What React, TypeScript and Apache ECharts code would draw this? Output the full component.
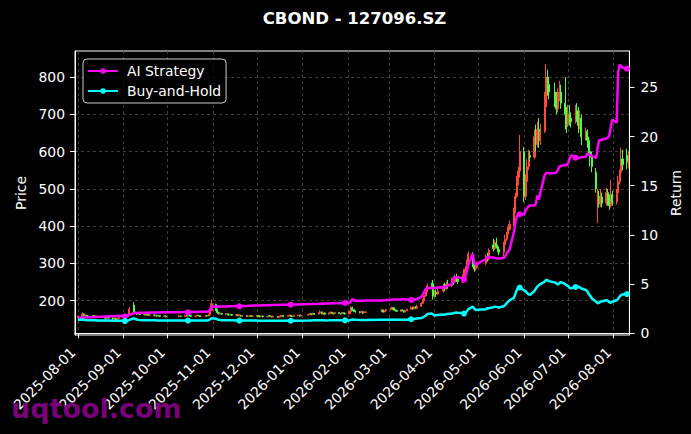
import React, { useEffect, useRef } from "react";
import * as echarts from "echarts";

const CHART_TITLE = "CBOND - 127096.SZ";
const WATERMARK = "uqtool.com";
const SERIES_NAMES = ["AI Strategy", "Buy-and-Hold"];
const Y_LEFT_NAME = "Price";
const Y_RIGHT_NAME = "Return";

const MONTH_TICKS = [
  "2025-08-01", "2025-09-01", "2025-10-01", "2025-11-01", "2025-12-01", "2026-01-01", "2026-02-01",
  "2026-03-01", "2026-04-01", "2026-05-01", "2026-06-01", "2026-07-01", "2026-08-01",
];
const PRICE_TICKS = [200, 300, 400, 500, 600, 700, 800];
const RETURN_TICKS = [0, 5, 10, 15, 20, 25];

const FIRST_DAY = "2025-08-01";
const LAST_DAY = "2026-08-11";
const HOLIDAYS = [
  "2025-10-01", "2025-10-02", "2025-10-03", "2025-10-06", "2025-10-07", "2025-10-08",
  "2026-01-01", "2026-01-02",
  "2026-02-16", "2026-02-17", "2026-02-18", "2026-02-19", "2026-02-20", "2026-02-23",
  "2026-04-06", "2026-05-01", "2026-05-04", "2026-05-05", "2026-06-19",
];
const MARKER_EVERY = 25;
const MARKER_OFFSET = 22;

// candles per month: [open, close, low, high]
const candlesAug25 = [
  [155, 158, 153, 160], [158, 164, 157, 169], [164, 160, 158, 166], [160, 161, 158, 163], [161, 159, 157, 162],
  [159, 158, 156, 161], [158, 160, 157, 162], [160, 159, 157, 161], [159, 157, 155, 160], [157, 158, 155, 160],
  [158, 156, 154, 159], [156, 158, 155, 160], [158, 155, 152, 159], [155, 153, 150, 156], [153, 156, 152, 158],
  [156, 154, 151, 157], [154, 151, 148, 155], [151, 153, 149, 155], [153, 150, 147, 154], [150, 152, 148, 154],
  [152, 155, 151, 157],
];
const candlesSep25 = [
  [155, 157, 154, 159], [157, 156, 154, 158], [156, 158, 155, 160], [158, 160, 157, 162], [160, 178, 159, 183],
  [188, 170, 167, 196], [170, 166, 164, 172], [166, 164, 162, 168], [164, 165, 162, 167], [165, 163, 161, 166],
  [163, 164, 161, 166], [164, 162, 160, 165], [162, 163, 160, 165], [163, 161, 159, 164], [161, 162, 159, 164],
  [162, 160, 158, 163], [160, 161, 158, 163], [161, 159, 157, 162], [159, 160, 157, 162], [160, 158, 156, 161],
  [158, 159, 156, 161], [159, 157, 155, 160],
];
const candlesOct25 = [
  [157, 159, 156, 161], [159, 158, 156, 160], [158, 160, 157, 162], [160, 159, 157, 161], [159, 161, 158, 163],
  [161, 160, 158, 162], [160, 158, 156, 161], [158, 159, 156, 160], [159, 161, 158, 163], [161, 160, 158, 162],
  [160, 158, 156, 161], [158, 159, 157, 161], [159, 160, 157, 162], [160, 159, 157, 161], [159, 163, 158, 165],
  [163, 174, 162, 180], [174, 192, 172, 204],
];
const candlesNov25 = [
  [190, 176, 172, 192], [176, 168, 165, 178], [168, 165, 163, 170], [165, 166, 163, 168], [166, 164, 162, 167],
  [164, 165, 162, 167], [165, 163, 161, 166], [163, 162, 160, 164], [162, 163, 160, 165], [163, 161, 159, 164],
  [161, 162, 159, 164], [162, 160, 158, 163], [160, 161, 158, 163], [161, 159, 157, 162], [159, 160, 157, 162],
  [160, 158, 156, 161], [158, 159, 156, 161], [159, 160, 157, 162], [160, 158, 156, 161], [158, 159, 157, 161],
];
const candlesDec25 = [
  [159, 160, 157, 162], [160, 158, 156, 161], [158, 157, 155, 159], [157, 159, 156, 160], [159, 157, 155, 160],
  [157, 158, 155, 160], [158, 160, 157, 162], [160, 158, 156, 161], [158, 157, 155, 159], [157, 158, 155, 160],
  [158, 156, 154, 159], [156, 157, 154, 159], [157, 159, 156, 161], [159, 160, 157, 162], [160, 158, 156, 161],
  [158, 159, 156, 161], [159, 161, 158, 163], [161, 159, 157, 162], [159, 158, 156, 160], [158, 160, 157, 162],
  [160, 161, 158, 163], [161, 159, 157, 162], [159, 161, 158, 163],
];
const candlesJan26 = [
  [161, 163, 160, 165], [163, 165, 162, 167], [165, 163, 161, 166], [163, 166, 162, 168], [166, 164, 162, 167],
  [164, 167, 163, 169], [167, 170, 166, 174], [170, 165, 163, 171], [165, 167, 164, 169], [167, 164, 162, 168],
  [164, 166, 163, 168], [166, 169, 165, 171], [169, 166, 164, 170], [166, 165, 163, 168], [165, 168, 164, 170],
  [168, 166, 164, 169], [166, 165, 163, 167], [165, 168, 164, 170], [168, 166, 164, 169], [166, 165, 163, 167],
];
const candlesFeb26 = [
  [165, 171, 164, 173], [171, 181, 170, 186], [181, 176, 172, 184], [176, 172, 170, 178], [172, 170, 168, 174],
  [170, 168, 166, 172], [168, 171, 167, 173], [171, 167, 165, 172], [167, 169, 166, 171], [169, 170, 167, 172],
  [170, 175, 169, 178], [175, 170, 168, 176], [170, 173, 169, 175], [173, 176, 171, 178],
];
const candlesMar26 = [
  [176, 179, 174, 182], [179, 181, 177, 184], [181, 176, 174, 182], [176, 174, 172, 178], [174, 172, 170, 176],
  [172, 175, 171, 177], [175, 173, 171, 177], [173, 170, 168, 175], [170, 173, 169, 175], [173, 177, 172, 179],
  [177, 182, 176, 185], [182, 178, 176, 184], [178, 183, 177, 186], [183, 180, 178, 185], [180, 185, 179, 189],
  [185, 193, 184, 196], [193, 201, 191, 205], [201, 213, 199, 216], [213, 226, 211, 231], [226, 240, 224, 246],
  [240, 236, 232, 248], [246, 212, 203, 256],
];
const candlesApr26 = [
  [212, 222, 208, 228], [222, 218, 210, 230], [218, 226, 215, 232], [226, 238, 222, 245], [238, 232, 225, 248],
  [232, 245, 228, 252], [245, 240, 232, 256], [240, 255, 236, 262], [255, 250, 242, 265], [250, 262, 247, 270],
  [262, 258, 250, 272], [258, 252, 245, 265], [252, 262, 247, 270], [262, 278, 258, 285], [278, 285, 272, 292],
  [285, 300, 282, 310], [300, 325, 296, 332], [322, 296, 290, 330], [296, 285, 278, 302], [285, 290, 280, 298],
  [290, 298, 286, 305],
];
const candlesMay26 = [
  [300, 318, 296, 325], [318, 312, 305, 329], [312, 335, 308, 340], [350, 340, 332, 366], [340, 355, 336, 362],
  [355, 345, 340, 369], [345, 338, 330, 350], [338, 330, 322, 342], [330, 350, 318, 358], [350, 365, 345, 377],
  [365, 378, 360, 385], [378, 392, 372, 398], [392, 405, 388, 415], [405, 440, 400, 450], [440, 480, 435, 490],
  [480, 520, 475, 535], [520, 548, 510, 560], [548, 600, 530, 645],
];
const candlesJun26 = [
  [600, 480, 465, 612], [480, 520, 470, 540], [520, 560, 510, 580], [560, 590, 550, 605], [590, 585, 575, 602],
  [585, 640, 580, 660], [640, 620, 600, 672], [620, 660, 612, 680], [660, 630, 610, 690], [630, 655, 618, 675],
  [655, 720, 650, 760], [720, 800, 700, 835], [800, 780, 750, 820], [780, 760, 740, 800], [760, 740, 720, 785],
  [740, 715, 700, 760], [715, 745, 705, 770], [745, 760, 735, 790], [760, 730, 715, 780], [730, 700, 660, 800],
  [700, 675, 650, 720],
];
const candlesJul26 = [
  [675, 700, 666, 725], [700, 690, 670, 725], [690, 680, 665, 705], [680, 710, 675, 725], [710, 695, 680, 730],
  [695, 670, 650, 720], [670, 690, 660, 710], [690, 640, 618, 700], [640, 655, 630, 665], [655, 630, 610, 660],
  [630, 600, 590, 640], [600, 585, 560, 612], [585, 560, 545, 600], [545, 500, 490, 556], [465, 480, 408, 500],
  [480, 460, 450, 495], [460, 478, 452, 500], [478, 462, 450, 490], [462, 490, 455, 503], [490, 470, 455, 500],
  [470, 455, 444, 485], [455, 485, 450, 524], [485, 465, 455, 495],
];
const candlesAug26 = [
  [465, 490, 458, 500], [490, 520, 485, 535], [520, 545, 512, 552], [545, 580, 540, 610], [580, 565, 550, 605],
  [590, 570, 552, 608], [570, 575, 555, 600],
];

// return lines, one value per trading day
const aiStrategy = [
  // Aug 2025
  1.58, 1.59, 1.60, 1.60, 1.61, 1.62, 1.63, 1.64, 1.65, 1.66, 1.67, 1.68, 1.69, 1.70, 1.71, 1.72, 1.73, 1.74, 1.75, 1.76, 1.77,
  // Sep
  1.76, 1.72, 1.76, 1.80, 1.85, 2.05, 2.06, 2.06, 2.07, 2.07, 2.08, 2.08, 2.09, 2.09, 2.10, 2.10, 2.11, 2.11, 2.12, 2.12, 2.13, 2.13,
  // Oct
  2.14, 2.14, 2.15, 2.15, 2.12, 2.16, 2.16, 2.17, 2.17, 2.18, 2.18, 2.19, 2.19, 2.20, 2.20, 2.45, 2.72,
  // Nov
  2.70, 2.71, 2.72, 2.72, 2.73, 2.73, 2.74, 2.74, 2.75, 2.75, 2.76, 2.76, 2.74, 2.77, 2.78, 2.78, 2.79, 2.80, 2.80, 2.81,
  // Dec
  2.82, 2.83, 2.83, 2.84, 2.84, 2.85, 2.85, 2.86, 2.86, 2.87, 2.87, 2.88, 2.88, 2.89, 2.89, 2.90, 2.88, 2.91, 2.91, 2.92, 2.93, 2.93, 2.94,
  // Jan 2026
  2.95, 2.96, 2.97, 2.98, 2.98, 2.99, 3.00, 3.00, 3.01, 3.02, 3.02, 3.03, 3.04, 3.04, 3.05, 3.06, 3.06, 3.07, 3.08, 3.08,
  // Feb
  3.10, 3.25, 3.48, 3.35, 3.30, 3.30, 3.31, 3.31, 3.32, 3.32, 3.33, 3.36, 3.35, 3.37,
  // Mar
  3.40, 3.42, 3.44, 3.43, 3.42, 3.44, 3.45, 3.45, 3.44, 3.43, 3.40, 3.38, 3.40, 3.42, 3.50, 3.70, 3.95, 4.25, 4.50, 4.60, 4.62, 4.58,
  // Apr
  4.60, 4.62, 4.65, 4.68, 4.66, 4.75, 4.85, 5.00, 5.65, 5.70, 5.68, 5.70, 5.55, 5.45, 5.75, 6.30, 7.00, 8.10, 7.10, 6.95, 7.05,
  // May
  7.55, 7.75, 7.75, 7.70, 7.65, 7.62, 7.60, 7.60, 7.65, 7.80, 8.10, 8.30, 8.50, 10.30, 11.20, 11.90, 12.20, 12.10,
  // Jun
  12.10, 12.50, 12.70, 12.90, 13.00, 13.00, 13.20, 14.00, 13.60, 14.30, 16.10, 16.30, 16.30, 16.25, 16.30, 16.35, 16.60, 16.95, 17.00, 17.10, 17.10,
  // Jul
  17.30, 17.80, 18.10, 17.85, 17.75, 17.80, 17.85, 17.90, 17.95, 18.30, 18.20, 18.10, 18.05, 17.80, 18.80, 19.60, 19.65, 19.70, 19.80, 19.90, 20.10, 21.00, 21.70,
  // Aug 2026
  21.40, 26.50, 27.30, 27.20, 27.00, 26.90, 26.85,
];
const buyAndHold = [
  // Aug 2025
  1.38, 1.40, 1.36, 1.34, 1.33, 1.32, 1.32, 1.31, 1.31, 1.30, 1.30, 1.30, 1.29, 1.30, 1.29, 1.29, 1.28, 1.28, 1.27, 1.28, 1.27,
  // Sep
  1.27, 1.24, 1.26, 1.28, 1.35, 1.52, 1.45, 1.40, 1.36, 1.34, 1.33, 1.33, 1.32, 1.32, 1.31, 1.31, 1.31, 1.30, 1.30, 1.30, 1.30, 1.29,
  // Oct
  1.29, 1.30, 1.30, 1.30, 1.29, 1.30, 1.29, 1.30, 1.30, 1.30, 1.29, 1.30, 1.30, 1.29, 1.32, 1.42, 1.52,
  // Nov
  1.48, 1.40, 1.36, 1.34, 1.33, 1.32, 1.32, 1.31, 1.31, 1.31, 1.30, 1.30, 1.28, 1.30, 1.30, 1.29, 1.29, 1.29, 1.29, 1.29,
  // Dec
  1.29, 1.28, 1.28, 1.28, 1.27, 1.28, 1.28, 1.28, 1.27, 1.27, 1.27, 1.27, 1.27, 1.28, 1.27, 1.27, 1.25, 1.27, 1.27, 1.27, 1.28, 1.28, 1.28,
  // Jan 2026
  1.29, 1.30, 1.30, 1.31, 1.31, 1.32, 1.33, 1.31, 1.31, 1.30, 1.31, 1.32, 1.31, 1.31, 1.32, 1.31, 1.31, 1.32, 1.31, 1.31,
  // Feb
  1.30, 1.36, 1.40, 1.38, 1.36, 1.35, 1.35, 1.34, 1.35, 1.35, 1.37, 1.36, 1.37, 1.38,
  // Mar
  1.38, 1.40, 1.38, 1.37, 1.36, 1.38, 1.38, 1.37, 1.37, 1.38, 1.42, 1.45, 1.45, 1.48, 1.50, 1.55, 1.62, 1.70, 1.80, 1.95, 2.00, 1.90,
  // Apr
  1.80, 1.82, 1.86, 1.90, 1.88, 1.95, 1.96, 2.00, 2.05, 2.08, 2.10, 2.07, 2.05, 2.00, 2.10, 2.25, 2.45, 2.70, 2.50, 2.35, 2.38,
  // May
  2.45, 2.55, 2.55, 2.65, 2.70, 2.68, 2.65, 2.62, 2.75, 2.85, 3.05, 3.20, 3.35, 3.60, 4.00, 4.40, 4.70, 4.65,
  // Jun
  4.35, 4.30, 4.10, 3.95, 3.90, 4.30, 4.55, 4.75, 4.90, 5.00, 5.25, 5.42, 5.38, 5.30, 5.15, 5.05, 4.95, 5.10, 5.20, 5.00, 4.85,
  // Jul
  4.80, 4.60, 4.58, 4.70, 4.74, 4.72, 4.65, 4.55, 4.40, 4.25, 4.00, 3.80, 3.56, 3.20, 3.05, 3.10, 3.20, 3.25, 3.35, 3.30, 3.15, 3.10, 3.20,
  // Aug 2026
  3.35, 3.50, 3.70, 3.90, 3.95, 3.98, 4.00,
];

const CANDLE_MONTHS = [
  candlesAug25, candlesSep25, candlesOct25, candlesNov25, candlesDec25, candlesJan26, candlesFeb26,
  candlesMar26, candlesApr26, candlesMay26, candlesJun26, candlesJul26, candlesAug26,
];

const FONT = "'DejaVu Sans', sans-serif";
const FS = 13.9;
const UP = "#ff4a3a";
const DOWN = "#4dff40";
const MAGENTA = "#ff00ff";
const CYAN = "#00ffff";
const GRID_LINE = "#4d4d4d";
const DAY = 86400000;

function ts(s: string): number {
  const [y, m, d] = s.split("-").map(Number);
  return Date.UTC(y, m - 1, d);
}
function fmt(t: number): string {
  const d = new Date(t);
  const p = (n: number) => String(n).padStart(2, "0");
  return `${d.getUTCFullYear()}-${p(d.getUTCMonth() + 1)}-${p(d.getUTCDate())}`;
}
function tradingDays(): number[] {
  const hol = new Set(HOLIDAYS);
  const out: number[] = [];
  for (let t = ts(FIRST_DAY); t <= ts(LAST_DAY); t += DAY) {
    const wd = new Date(t).getUTCDay();
    if (wd === 0 || wd === 6) continue;
    if (hol.has(fmt(t))) continue;
    out.push(t);
  }
  return out;
}

function buildOption() {
  const days = tradingDays();
  const ohlc = CANDLE_MONTHS.flat();
  const n = Math.min(days.length, ohlc.length);
  const candles = [];
  for (let i = 0; i < n; i++) candles.push([days[i], ...ohlc[i]]);
  const lineData = (vals: number[]) =>
    vals.slice(0, days.length).map((v, i) => ({
      value: [days[i], v],
      symbol: i % MARKER_EVERY === MARKER_OFFSET ? "circle" : "none",
    }));
  const monthTs = MONTH_TICKS.map(ts);
  const xMin = ts(FIRST_DAY) - 2 * DAY;
  const xMax = ts(FIRST_DAY) + 375.7 * DAY;
  const tickColor = { color: "#ffffff", width: 1 };
  const split = { show: true, lineStyle: { color: GRID_LINE, type: [3, 3], width: 0.8 } };

  return {
    animation: false,
    backgroundColor: "#000000",
    textStyle: { fontFamily: FONT },
    grid: { left: 75, top: 51, width: 559, height: 284, show: true, borderColor: "#ffffff", borderWidth: 1, containLabel: false },
    legend: {
      data: SERIES_NAMES,
      orient: "vertical",
      left: 83,
      top: 59,
      itemWidth: 30,
      itemHeight: 7,
      itemGap: 6,
      padding: [5, 5, 5, 4],
      backgroundColor: "rgba(0,0,0,0.8)",
      borderColor: "#cccccc",
      borderWidth: 1,
      borderRadius: 4,
      textStyle: { color: "#ffffff", fontSize: FS, fontFamily: FONT, padding: [0, 0, 0, 4] },
    },
    xAxis: {
      type: "value",
      min: xMin,
      max: xMax,
      axisLine: { show: true, lineStyle: tickColor },
      axisTick: { show: true, length: 5, lineStyle: tickColor, customValues: monthTs },
      axisLabel: {
        customValues: monthTs,
        rotate: 45,
        color: "#ffffff",
        fontSize: FS,
        fontFamily: FONT,
        margin: 20,
        verticalAlign: "bottom",
        hideOverlap: false,
        formatter: (v: number) => fmt(v),
      },
      splitLine: split,
    },
    yAxis: [
      {
        type: "value",
        position: "left",
        min: 108,
        max: 870,
        name: Y_LEFT_NAME,
        nameLocation: "middle",
        nameGap: 37,
        nameTextStyle: { color: "#ffffff", fontSize: FS, fontFamily: FONT },
        axisLine: { show: true, lineStyle: tickColor },
        axisTick: { show: true, length: 5, lineStyle: tickColor, customValues: PRICE_TICKS },
        axisLabel: { customValues: PRICE_TICKS, color: "#ffffff", fontSize: FS, fontFamily: FONT, margin: 10 },
        splitLine: split,
      },
      {
        type: "value",
        position: "right",
        min: -0.18,
        max: 28.7,
        name: Y_RIGHT_NAME,
        nameLocation: "middle",
        nameGap: 28,
        nameTextStyle: { color: "#ffffff", fontSize: FS, fontFamily: FONT },
        axisLine: { show: true, lineStyle: tickColor },
        axisTick: { show: true, length: 5, lineStyle: tickColor, customValues: RETURN_TICKS },
        axisLabel: { customValues: RETURN_TICKS, color: "#ffffff", fontSize: FS, fontFamily: FONT, margin: 11 },
        splitLine: { show: false },
      },
    ],
    graphic: [
      {
        type: "text",
        x: 354.5,
        y: 18,
        style: { text: CHART_TITLE, fill: "#ffffff", font: `bold 16.5px ${FONT}`, textAlign: "center", textVerticalAlign: "middle" },
      },
      {
        type: "text",
        x: 11,
        y: 408,
        z: 100,
        style: { text: WATERMARK, fill: "rgba(128,0,128,0.95)", font: `bold 27px ${FONT}`, textAlign: "left", textVerticalAlign: "middle" },
      },
    ],
    series: [
      {
        type: "candlestick",
        name: "Price",
        xAxisIndex: 0,
        yAxisIndex: 0,
        barWidth: 1.6,
        itemStyle: { color: UP, color0: DOWN, borderColor: UP, borderColor0: DOWN, borderWidth: 1 },
        data: candles,
        z: 2,
      },
      {
        type: "line",
        name: SERIES_NAMES[0],
        xAxisIndex: 0,
        yAxisIndex: 1,
        data: lineData(aiStrategy),
        symbol: "circle",
        symbolSize: 6,
        showSymbol: true,
        lineStyle: { color: MAGENTA, width: 2.5 },
        itemStyle: { color: MAGENTA },
        z: 3,
      },
      {
        type: "line",
        name: SERIES_NAMES[1],
        xAxisIndex: 0,
        yAxisIndex: 1,
        data: lineData(buyAndHold),
        symbol: "circle",
        symbolSize: 6,
        showSymbol: true,
        lineStyle: { color: CYAN, width: 2.5 },
        itemStyle: { color: CYAN },
        z: 3,
      },
    ],
  };
}

export default function App() {
  const ref = useRef<HTMLDivElement>(null);
  useEffect(() => {
    document.body.style.margin = "0";
    document.body.style.background = "#000000";
    const chart = echarts.init(ref.current as HTMLDivElement, undefined, { renderer: "svg" });
    chart.setOption(buildOption() as any);
    return () => chart.dispose();
  }, []);
  return <div ref={ref} style={{ position: "absolute", left: 0, top: 0, width: 691, height: 434 }} />;
}
